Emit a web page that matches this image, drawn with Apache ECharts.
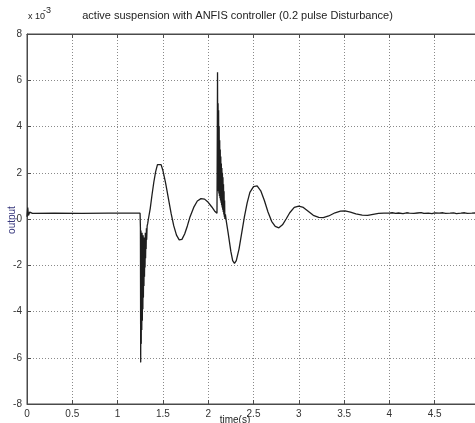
<!DOCTYPE html>
<html>
<head>
<meta charset="utf-8">
<title>active suspension with ANFIS controller</title>
<script src="https://cdn.jsdelivr.net/npm/echarts@6/dist/echarts.min.js"></script>
<style>
  html, body { margin: 0; padding: 0; background: #ffffff; }
  #chart { width: 475px; height: 423px; }
</style>
</head>
<body>
<div id="chart"></div>
<script>
// Suspension output (in units of 1e-3) sampled over time (s)
const quietTime = [0, 0.008, 0.016, 0.03, 0.06, 0.3, 0.6, 0.9, 1.2, 1.248];
const quietOut  = [0.1, 0.5, 0.15, 0.3, 0.24, 0.25, 0.24, 0.25, 0.25, 0.25];

// first pulse edge: fast chattering response
const pulse1Time = [1.252, 1.255, 1.258, 1.261, 1.264, 1.267, 1.270, 1.273, 1.276, 1.279,
                    1.282, 1.285, 1.288, 1.291, 1.294, 1.297, 1.300, 1.303, 1.306, 1.309,
                    1.312, 1.315, 1.318, 1.321, 1.326, 1.332, 1.34];
const pulse1Out  = [-0.4, -6.2, -0.5, -5.4, -0.8, -4.8, -0.6, -4.4, -1.0, -3.9,
                    -0.7, -3.4, -1.1, -2.9, -0.8, -2.5, -1.0, -2.1, -0.6, -1.7,
                    -0.7, -1.3, -0.4, -0.9, -0.3, -0.2, 0.0];

const swing1Time = [1.36, 1.38, 1.40, 1.42, 1.44, 1.46, 1.48, 1.50, 1.53, 1.56,
                    1.59, 1.62, 1.65, 1.68, 1.71, 1.74, 1.77, 1.80, 1.84, 1.88,
                    1.92, 1.96, 2.00, 2.04, 2.07, 2.097];
const swing1Out  = [0.45, 1.05, 1.6, 2.05, 2.35, 2.43, 2.35, 2.1, 1.55, 0.9,
                    0.25, -0.3, -0.7, -0.9, -0.88, -0.65, -0.3, 0.1, 0.5, 0.78,
                    0.88, 0.86, 0.72, 0.52, 0.35, 0.25];

// second pulse edge: spike with chatter
const pulse2Time = [2.100, 2.103, 2.106, 2.109, 2.112, 2.115, 2.118, 2.121, 2.124, 2.127,
                    2.130, 2.133, 2.136, 2.139, 2.142, 2.145, 2.148, 2.151, 2.154, 2.157,
                    2.160, 2.163, 2.166, 2.169, 2.172, 2.175, 2.178, 2.181, 2.184, 2.19];
const pulse2Out  = [0.3, 6.35, 1.2, 5.0, 1.3, 4.7, 1.1, 4.0, 1.0, 3.4,
                    0.9, 3.0, 0.8, 2.7, 0.7, 2.4, 0.6, 2.2, 0.5, 2.0,
                    0.4, 1.8, 0.3, 1.5, 0.2, 1.2, 0.1, 0.8, 0.0, 0.2];

const swing2Time = [2.20, 2.22, 2.25, 2.27, 2.29, 2.31, 2.34, 2.37, 2.40, 2.43,
                    2.46, 2.50, 2.54, 2.58, 2.62, 2.66, 2.70, 2.74, 2.78, 2.82,
                    2.86, 2.90, 2.95, 3.00, 3.05, 3.10, 3.16, 3.22, 3.27, 3.33,
                    3.40, 3.46, 3.51, 3.57, 3.63, 3.70, 3.76, 3.82, 3.88, 3.94];
const swing2Out  = [-0.1, -0.6, -1.4, -1.8, -1.92, -1.8, -1.3, -0.6, 0.1, 0.7,
                    1.15, 1.4, 1.43, 1.22, 0.8, 0.3, -0.1, -0.32, -0.38, -0.25,
                    0.0, 0.27, 0.5, 0.56, 0.5, 0.35, 0.16, 0.07, 0.06, 0.13,
                    0.27, 0.34, 0.35, 0.3, 0.22, 0.17, 0.16, 0.2, 0.24, 0.25];

// settled tail with slight jitter
const settleTime = [4.00, 4.03, 4.07, 4.10, 4.15, 4.19, 4.22, 4.27, 4.31, 4.35,
                    4.38, 4.43, 4.47, 4.50, 4.55, 4.59, 4.62, 4.67, 4.71, 4.74,
                    4.79, 4.83, 4.86, 4.91, 4.95, 5.00];
const settleOut  = [0.25, 0.27, 0.24, 0.26, 0.23, 0.27, 0.25, 0.24, 0.26, 0.28,
                    0.24, 0.25, 0.23, 0.26, 0.25, 0.27, 0.24, 0.25, 0.26, 0.23,
                    0.25, 0.27, 0.24, 0.25, 0.26, 0.25];

const timeS = [].concat(quietTime, pulse1Time, swing1Time, pulse2Time, swing2Time, settleTime);
const outputE3 = [].concat(quietOut, pulse1Out, swing1Out, pulse2Out, swing2Out, settleOut);
const points = timeS.map((t, i) => [t, outputE3[i]]);

const titleText = 'active suspension with ANFIS controller (0.2 pulse Disturbance)';
const xName = 'time(s)';
const yName = 'output';

const FONT = '"Liberation Sans", Arial, sans-serif';
const chart = echarts.init(document.getElementById('chart'), null, { renderer: 'canvas' });

const gridLine = { show: true, lineStyle: { color: '#8a8a8a', type: [1, 2], width: 1 } };
const frameLine = { show: true, onZero: false, lineStyle: { color: '#4a4a4a', width: 1 } };
const tickStyle = { show: true, inside: true, length: 4, lineStyle: { color: '#4a4a4a' } };
const tickLabel = { color: '#333', fontFamily: FONT, fontSize: 10 };

chart.setOption({
  animation: false,
  backgroundColor: '#ffffff',
  grid: {
    left: 27, top: 34, width: 453, height: 370,
    containLabel: false, outerBoundsMode: 'none',
    show: true, borderColor: '#4a4a4a', borderWidth: 1
  },
  xAxis: [
    {
      type: 'value', min: 0, max: 5, interval: 0.5, position: 'bottom',
      axisLine: frameLine,
      axisTick: tickStyle,
      axisLabel: Object.assign({ margin: 5 }, tickLabel),
      splitLine: gridLine
    },
    {
      type: 'value', min: 0, max: 5, interval: 0.5, position: 'top',
      axisLine: frameLine,
      axisTick: tickStyle,
      axisLabel: { show: false },
      splitLine: { show: false }
    }
  ],
  yAxis: {
    type: 'value', min: -8, max: 8, interval: 2,
    axisLine: frameLine,
    axisTick: tickStyle,
    axisLabel: Object.assign({ margin: 5 }, tickLabel),
    splitLine: gridLine
  },
  series: [{
    type: 'line',
    data: points,
    showSymbol: false,
    symbol: 'none',
    clip: true,
    lineStyle: { color: '#1e1e1e', width: 1.3 }
  }],
  graphic: [
    {
      type: 'text', left: 'center', top: 10,
      style: { text: titleText, font: '11px ' + FONT, fill: '#222' }
    },
    {
      type: 'text', x: 28, y: 12,
      style: { text: 'x 10', font: '9px ' + FONT, fill: '#222' }
    },
    {
      type: 'text', x: 43, y: 6,
      style: { text: '-3', font: '9px ' + FONT, fill: '#222' }
    },
    {
      type: 'text', x: 235, y: 420,
      style: { text: xName, font: '10px ' + FONT, fill: '#222', align: 'center', verticalAlign: 'middle' }
    },
    {
      type: 'text', x: 12, y: 220, rotation: Math.PI / 2,
      style: { text: yName, font: '10px ' + FONT, fill: '#33337a', align: 'center', verticalAlign: 'middle' }
    }
  ]
});
</script>
</body>
</html>
